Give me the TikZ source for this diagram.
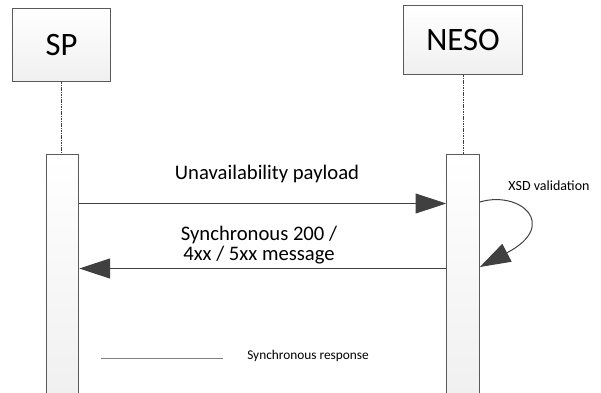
\documentclass[tikz,border=0pt]{standalone}
\usepackage{fontspec}
\setmainfont{Carlito}
\usetikzlibrary{arrows.meta}
\definecolor{edge}{RGB}{90,90,90}
\definecolor{ink}{RGB}{64,64,64}
\definecolor{legendgray}{RGB}{128,128,128}
\tikzset{
  actor/.style={draw=edge, line width=0.75pt, top color=white, bottom color=black!6, shading angle=0, inner sep=0pt, font=\fontsize{24.5}{29}\selectfont},
  actbar/.style={draw=edge, line width=0.75pt, top color=white, bottom color=black!6, inner sep=0pt, minimum width=24.5pt, minimum height=184.5pt},
  lifeline/.style={draw=ink, line width=0.75pt, dash pattern=on 1.2pt off 0.6pt},
  msg/.style={draw=ink, line width=0.75pt, -{Triangle[length=23pt,width=15pt]}, color=ink},
  lbl/.style={inner sep=0pt, font=\fontsize{15.5}{16}\selectfont},
  smalllbl/.style={inner sep=0pt, font=\fontsize{10.5}{12}\selectfont},
}
\begin{document}
\begin{tikzpicture}[x=0.75pt,y=-0.75pt]
\useasboundingbox (0,0) rectangle (601,393);
% actors
\node[actor, minimum width=74pt, minimum height=55pt] (sp) at (61.5,45) {SP};
\node[actor, minimum width=89pt, minimum height=52pt] (neso) at (463,40) {NESO};
% activation bars
\node[actbar] (spbar) at (62.5,277) {};
\node[actbar] (nesobar) at (463,277) {};
% lifelines
\draw[lifeline] (sp.south) -- (spbar.north -| sp.south);
\draw[lifeline] (neso.south) -- (nesobar.north -| neso.south);
% messages
\draw[msg] (spbar.east |- 0,203.5) -- (nesobar.west |- 0,203.5);
\node[lbl] (m1) at (267,174) {Unavailability payload};
\draw[msg] (nesobar.west |- 0,268.5) -- (spbar.east |- 0,268.5);
\node[lbl, align=center, font=\fontsize{15.5}{16}\selectfont] (m2) at (259,245) {Synchronous 200 /\\[-1pt]4xx / 5xx message};
% self loop
\draw[msg] (nesobar.east |- 0,202) .. controls (520,190) and (560,225) .. (nesobar.east |- 0,267);
\node[smalllbl] (xsd) at (549,186) {XSD validation};
% legend
\coordinate (lg1) at (101,358);
\coordinate (lg2) at (223,358);
\draw[legendgray, line width=0.75pt] (lg1) -- (lg2);
\node[smalllbl, anchor=west, font=\fontsize{10}{12}\selectfont] (lgt) at (247,356) {Synchronous response};
\end{tikzpicture}
\end{document}
